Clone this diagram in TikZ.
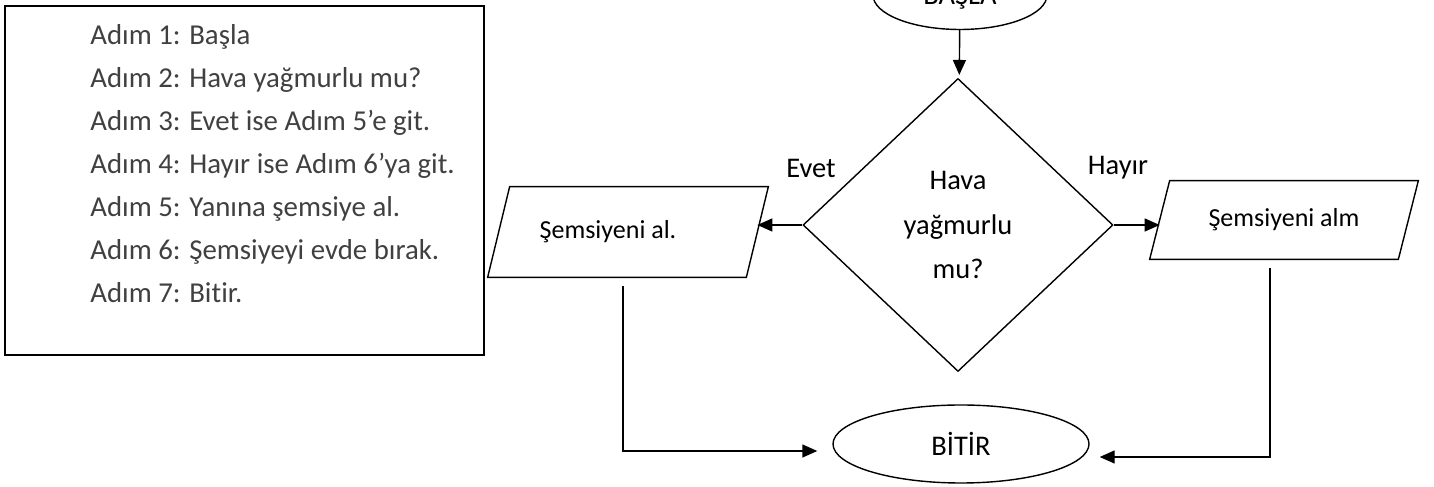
\documentclass[tikz,border=0pt]{standalone}
\usepackage{fontspec}
\setmainfont{Carlito}[Ligatures=NoCommon]
\usetikzlibrary{arrows.meta, positioning, shapes.geometric, calc}
\definecolor{steptext}{RGB}{64,64,64}
\definecolor{flowline}{RGB}{0,0,0}

\begin{document}
\begin{tikzpicture}[
  shp/.style={draw=flowline, line width=0.8pt, align=center, inner sep=0pt,
    font=\fontsize{16.2}{19}\selectfont},
  term/.style={shp, ellipse},
  io/.style={align=center, inner sep=0pt, font=\fontsize{14.8}{18}\selectfont},
  arr/.style={-{Triangle[length=0.3cm, width=0.26cm]}, line width=0.8pt, flowline},
  lbl/.style={font=\fontsize{16.2}{19}\selectfont},
  steptxt/.style={font=\fontsize{16.4}{19}\selectfont, text=steptext, anchor=base west, inner sep=0pt}
]
  \useasboundingbox (0,0) rectangle (28.68,-9.74);

  % Algorithm steps
  \node[draw, line width=1.1pt, minimum width=9.58cm, minimum height=6.98cm] (steps) at (4.89,-3.61) {};
  \foreach \t [count=\i] in {Adım 1: Başla, Adım 2: Hava yağmurlu mu?, Adım 3: Evet ise Adım 5’e git.,
      Adım 4: Hayır ise Adım 6’ya git., Adım 5: Yanına şemsiye al., Adım 6: Şemsiyeyi evde bırak., Adım 7: Bitir.}
    \node[steptxt] (s\i) at (1.8,{-0.04-0.86*\i}) {\t};

  % Flowchart
  \node[term, minimum width=3.48cm, minimum height=1.38cm, text depth=0pt] (start) at (19.2,0.1) {BAŞLA};
  \node[shp, diamond, minimum width=6.2cm, minimum height=5.86cm,
    font=\fontsize{16.2}{25.5}\selectfont] (rain) at (19.16,-4.5) {Hava\\yağmurlu\\mu?};
  \node[io, minimum width=5.16cm, minimum height=1.8cm] (take) at (12.56,-4.64) {\hspace*{-0.8cm}Şemsiyeni al.};
  \node[io, minimum width=4.96cm, minimum height=1.56cm] (leave) at (25.68,-4.4) {Şemsiyeni alm};
  \node[term, minimum width=5.12cm, minimum height=1.56cm] (finish) at (19.22,-8.88) {BİTİR};

  % slanted sides of the two output boxes
  \foreach \n/\s in {take/0.22cm, leave/0.2cm}
    \draw[flowline, line width=0.8pt] ([xshift=\s]\n.north west) -- ([xshift=\s]\n.north east)
      -- ([xshift=-\s]\n.south east) -- ([xshift=-\s]\n.south west) -- cycle;

  \node[lbl] (yes) at (16.22,-3.36) {Evet};
  \node[lbl] (no) at (22.36,-3.36) {Hayır};

  \draw[arr, shorten >=0.08cm] (start) -- (rain);
  \draw[arr] (rain.west) -- (rain.west -| take.east);
  \draw[arr] (rain.east) -- (rain.east -| leave.west);
  \draw[arr, shorten >=0.3cm] ([xshift=-0.1cm, yshift=-0.18cm]take.south) |- ([yshift=-0.14cm]finish.west);
  \draw[arr, shorten >=0.2cm] ([xshift=-0.28cm, yshift=-0.18cm]leave.south) |- ([yshift=-0.26cm]finish.east);
\end{tikzpicture}
\end{document}
